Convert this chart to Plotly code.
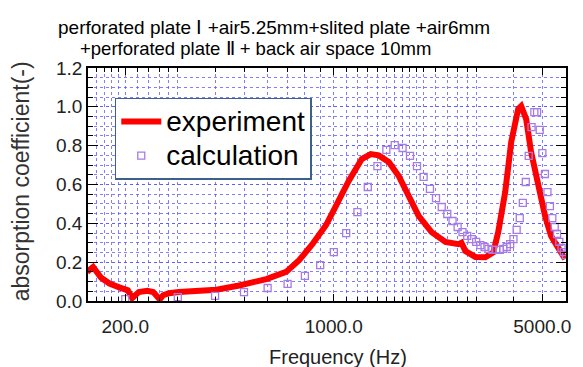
import plotly.graph_objects as go

# ---------------- data ----------------
exp_freq = [149, 156, 166, 177, 191, 204, 211, 222, 237, 248, 255, 261, 268, 280, 303,
            347, 404, 482, 594, 692, 765, 845, 941, 986, 1041, 1123, 1241, 1330, 1414,
            1528, 1650, 1782, 1924, 2126, 2367, 2617, 2677, 2761, 2982, 3220, 3423,
            3557, 3753, 3932, 4149, 4246, 4413, 4584, 4838, 5106, 5348, 5642, 5956]
exp_alpha = [0.15, 0.175, 0.12, 0.09, 0.07, 0.055, 0.015, 0.046, 0.052, 0.046, 0.026,
             0.008, 0.03, 0.04, 0.046, 0.05, 0.058, 0.08, 0.113, 0.15, 0.21, 0.29,
             0.39, 0.45, 0.525, 0.62, 0.731, 0.757, 0.75, 0.716, 0.644, 0.541, 0.438,
             0.355, 0.304, 0.293, 0.30, 0.257, 0.227, 0.225, 0.25, 0.355, 0.561, 0.819,
             0.989, 1.004, 0.937, 0.767, 0.592, 0.438, 0.335, 0.268, 0.216]

calc_freq = [200, 300, 400, 500, 600, 700, 800, 900, 1000, 1100, 1200, 1300, 1400, 1500,
             1600, 1700, 1800, 1900, 2000, 2100, 2200, 2300, 2400, 2500, 2600, 2700,
             2800, 2900, 3000, 3100, 3200, 3300, 3400, 3500, 3600, 3700, 3800, 3900,
             4000, 4100, 4200, 4300, 4400, 4500, 4600, 4700, 4800, 4900, 5000, 5100,
             5200, 5300, 5400, 5500, 5600, 5700, 5800, 5900, 6000]
calc_alpha = [0.01, 0.02, 0.026, 0.046, 0.067, 0.088, 0.129, 0.185, 0.252, 0.35, 0.458,
              0.587, 0.695, 0.778, 0.803, 0.788, 0.747, 0.695, 0.639, 0.577, 0.53,
              0.484, 0.448, 0.412, 0.381, 0.355, 0.335, 0.319, 0.304, 0.288, 0.278,
              0.268, 0.263, 0.263, 0.263, 0.268, 0.278, 0.293, 0.319, 0.366, 0.427,
              0.505, 0.613, 0.747, 0.896, 0.973, 0.973, 0.881, 0.762, 0.654, 0.561,
              0.489, 0.427, 0.381, 0.345, 0.304, 0.273, 0.252, 0.237]

x_tick_vals = [200, 1000, 5000]
x_tick_text = ["200.0", "1000.0", "5000.0"]
x_minor_vals = [150, 160, 170, 180, 190, 220, 240, 260, 280, 300, 400, 500, 600, 700,
                800, 900, 1100, 1200, 1300, 1400, 1500, 1600, 1700, 1800, 1900, 2000,
                2200, 2400, 2600, 2800, 3000, 4000, 6000]
y_tick_vals = [0.0, 0.2, 0.4, 0.6, 0.8, 1.0, 1.2]
y_tick_text = ["0.0", "0.2", "0.4", "0.6", "0.8", "1.0", "1.2"]

title_line1 = "perforated plate \u2160 +air5.25mm+slited plate +air6mm"
title_line2 = "+perforated plate \u2161 + back air space 10mm"
series_names = ["experiment", "calculation"]

# ---------------- figure ----------------
FONT = "Liberation Sans, Arial, sans-serif"
GRID = "rgba(85,85,255,0.75)"


def big(txt):
    return "<span style='font-size:28px'>" + txt + "</span>"


fig = go.Figure()
fig.add_trace(go.Scatter(
    x=exp_freq, y=exp_alpha, mode="lines", name=big(series_names[0]),
    line=dict(color="#ff0000", width=6)))
fig.add_trace(go.Scatter(
    x=calc_freq, y=calc_alpha, mode="markers", name=big(series_names[1]),
    marker=dict(symbol="square-open", size=7, color="#a77be6",
                line=dict(width=1.3, color="#a77be6"))))

fig.update_layout(
    width=583, height=367,
    margin=dict(l=88, r=15, t=68, b=66),
    paper_bgcolor="white", plot_bgcolor="white",
    font=dict(family=FONT, color="#333333"),
    showlegend=True,
    legend=dict(x=0.056, y=0.872, xanchor="left", yanchor="top",
                bgcolor="white", bordercolor="#3d5f8c", borderwidth=1.5,
                font=dict(size=24, color="#000000", family=FONT),
                itemwidth=40, tracegroupgap=0),
)

fig.update_xaxes(
    type="log", range=[2.1761, 3.7782],
    tickmode="array", tickvals=x_tick_vals, ticktext=x_tick_text,
    ticks="inside", ticklen=7, tickwidth=1.2, tickcolor="#000",
    tickfont=dict(size=19, color="#222222"), ticklabelstandoff=7,
    showline=True, linecolor="#000", linewidth=1.5, mirror="allticks",
    showgrid=True, gridcolor=GRID, gridwidth=1, griddash="dot",
    minor=dict(tickmode="array", tickvals=x_minor_vals, ticks="inside", ticklen=4,
               tickwidth=1, tickcolor="#000", showgrid=True, gridcolor=GRID,
               gridwidth=1, griddash="dot"),
    zeroline=False,
)
fig.update_yaxes(
    range=[0, 1.2],
    tickmode="array", tickvals=y_tick_vals, ticktext=y_tick_text,
    ticks="inside", ticklen=10, tickwidth=1.2, tickcolor="#000",
    tickfont=dict(size=19, color="#222222"),
    showline=True, linecolor="#000", linewidth=1.5, mirror="allticks",
    showgrid=True, gridcolor=GRID, gridwidth=1, griddash="dot",
    minor=dict(dtick=0.05, tick0=0, ticks="inside", ticklen=5, tickwidth=1,
               tickcolor="#000", showgrid=True, gridcolor=GRID, gridwidth=1,
               griddash="dot"),
    zeroline=False,
)

fig.add_annotation(text=title_line1, xref="paper", yref="paper",
                   x=(275 - 88) / 480, y=(301 - 27) / 233, xanchor="center", yanchor="middle",
                   showarrow=False, font=dict(size=19, color="#000", family=FONT))
fig.add_annotation(text=title_line2, xref="paper", yref="paper",
                   x=(256 - 88) / 480, y=(301 - 49) / 233, xanchor="center", yanchor="middle",
                   showarrow=False, font=dict(size=18.5, color="#000", family=FONT))
fig.add_annotation(text="absorption coefficient(-)", xref="paper", yref="paper",
                   x=(21 - 88) / 480, y=(301 - 181) / 233, xanchor="center", yanchor="middle",
                   textangle=-90, showarrow=False,
                   font=dict(size=23, color="#333333", family=FONT))
fig.add_annotation(text="Frequency (Hz)", xref="paper", yref="paper",
                   x=(339 - 88) / 480, y=(301 - 357) / 233, xanchor="center", yanchor="middle",
                   showarrow=False, font=dict(size=20, color="#222222", family=FONT))

fig.write_html("out.html")
